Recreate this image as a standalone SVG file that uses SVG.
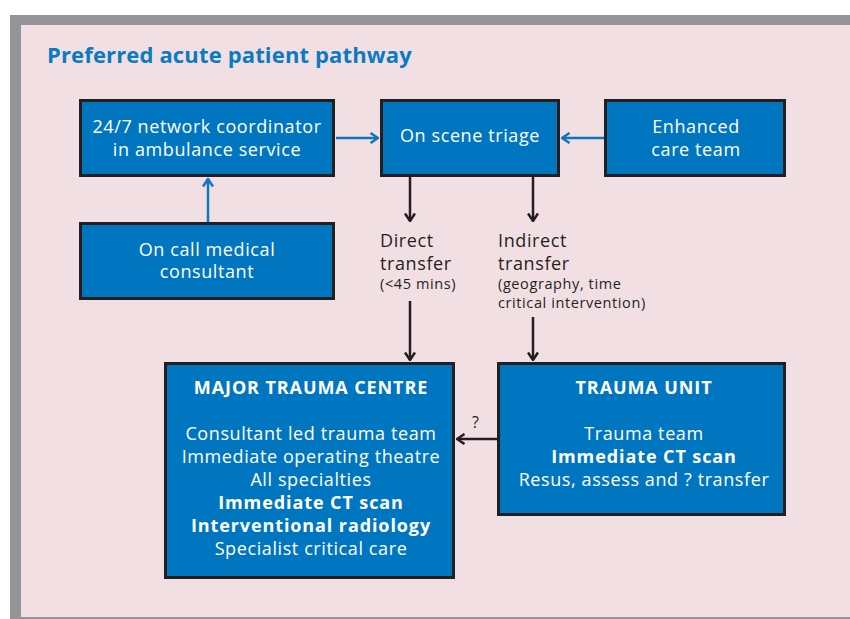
<svg xmlns="http://www.w3.org/2000/svg" width="850" height="619" viewBox="0 0 850 619">
<defs>
<style>
.box{fill:#0076c0;stroke:#231f20;stroke-width:3}
.t{font-family:"Open Sans","Noto Sans","DejaVu Sans",sans-serif;font-size:18px;fill:#ffffff;text-anchor:middle;letter-spacing:0.6px}
.b{font-weight:bold;letter-spacing:0.9px}
.lbl{font-family:"Open Sans","Noto Sans","DejaVu Sans",sans-serif;font-size:18px;fill:#231f20;letter-spacing:0.6px}
.sm{font-size:14.5px;letter-spacing:0.6px}
.title{font-family:"Open Sans","Noto Sans","DejaVu Sans",sans-serif;font-size:22px;font-weight:bold;fill:#0a7bc1;letter-spacing:0.15px}
.blue{stroke:#0f75bc;stroke-width:2.5;fill:none}
.blk{stroke:#231f20;stroke-width:2.5;fill:none}
</style>
<marker id="ab" markerUnits="userSpaceOnUse" viewBox="0 0 10 12" refX="9" refY="6" markerWidth="10" markerHeight="12" orient="auto">
<path d="M1.5,1 L9,6 L1.5,11" fill="none" stroke="#0f75bc" stroke-width="2.5"/>
</marker>
<marker id="ak" markerUnits="userSpaceOnUse" viewBox="0 0 10 12" refX="9" refY="6" markerWidth="10" markerHeight="12" orient="auto">
<path d="M1.5,1 L9,6 L1.5,11" fill="none" stroke="#231f20" stroke-width="2.5"/>
</marker>
</defs>
<rect x="0" y="0" width="850" height="619" fill="#ffffff"/>
<rect x="10" y="15" width="840" height="604" fill="#939598"/>
<rect x="21" y="25" width="829" height="592" fill="#f2dfe3"/>
<text class="title" x="47" y="63">Preferred acute patient pathway</text>

<g id="connectors">
<line class="blue" x1="336" y1="138" x2="378" y2="138" marker-end="url(#ab)"/>
<line class="blue" x1="604" y1="138" x2="562" y2="138" marker-end="url(#ab)"/>
<line class="blue" x1="208" y1="222" x2="208" y2="179" marker-end="url(#ab)"/>
<line class="blk" x1="410" y1="177" x2="410" y2="221" marker-end="url(#ak)"/>
<line class="blk" x1="533" y1="177" x2="533" y2="221" marker-end="url(#ak)"/>
<line class="blk" x1="410" y1="301" x2="410" y2="360" marker-end="url(#ak)"/>
<line class="blk" x1="533" y1="317" x2="533" y2="360" marker-end="url(#ak)"/>
<line class="blk" x1="497" y1="439" x2="457" y2="439" marker-end="url(#ak)"/>
<text class="lbl" x="472" y="428" style="font-size:16px">?</text>
<text class="lbl" x="380" y="247">Direct</text>
<text class="lbl" x="380" y="270">transfer</text>
<text class="lbl sm" x="380" y="289">(&lt;45 mins)</text>
<text class="lbl" x="498" y="247">Indirect</text>
<text class="lbl" x="498" y="270">transfer</text>
<text class="lbl sm" x="498" y="289">(geography, time</text>
<text class="lbl sm" x="498" y="308">critical intervention)</text>
</g>

<g id="coordinator">
<rect class="box" x="80.5" y="100.5" width="253" height="75"/>
<text class="t" x="207" y="133">24/7 network coordinator</text>
<text class="t" x="207" y="155.5">in ambulance service</text>
</g>
<g id="triage">
<rect class="box" x="381.5" y="100.5" width="177" height="75"/>
<text class="t" x="470" y="142">On scene triage</text>
</g>
<g id="enhanced">
<rect class="box" x="605.5" y="100.5" width="179" height="75"/>
<text class="t" x="696" y="133">Enhanced</text>
<text class="t" x="696" y="156">care team</text>
</g>
<g id="consultant">
<rect class="box" x="80.5" y="223.5" width="253" height="75"/>
<text class="t" x="207" y="255.5">On call medical</text>
<text class="t" x="207" y="278">consultant</text>
</g>
<g id="mtc">
<rect class="box" x="165.5" y="363.5" width="288" height="214"/>
<text class="t b" x="311" y="394">MAJOR TRAUMA CENTRE</text>
<text class="t" x="311" y="440">Consultant led trauma team</text>
<text class="t" x="311" y="463">Immediate operating theatre</text>
<text class="t" x="311" y="486">All specialties</text>
<text class="t b" x="311" y="509">Immediate CT scan</text>
<text class="t b" x="311" y="532">Interventional radiology</text>
<text class="t" x="311" y="555">Specialist critical care</text>
</g>
<g id="tu">
<rect class="box" x="498.5" y="363.5" width="286" height="151"/>
<text class="t b" x="644" y="394">TRAUMA UNIT</text>
<text class="t" x="644" y="440">Trauma team</text>
<text class="t b" x="644" y="463">Immediate CT scan</text>
<text class="t" x="644" y="486">Resus, assess and ? transfer</text>
</g>
</svg>
